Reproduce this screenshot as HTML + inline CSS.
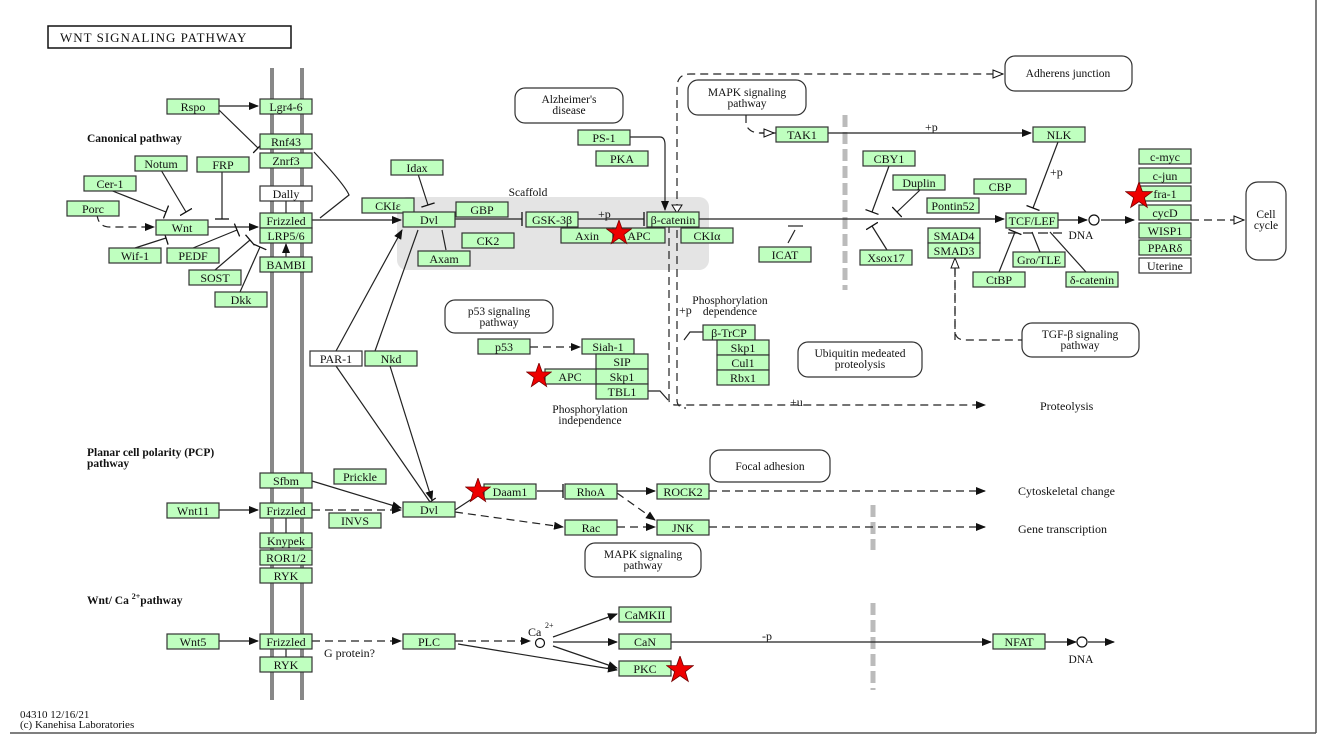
<!DOCTYPE html>
<html><head><meta charset="utf-8"><style>
html,body{margin:0;padding:0;background:#fff;}
svg{display:block;}
text{font-family:"Liberation Serif",serif;font-size:12px;fill:#111;}
.b rect{fill:#bfffbf;stroke:#333;stroke-width:1.2;}
.b text{text-anchor:middle;}
.w rect{fill:#fff;}
.l{stroke:#222;stroke-width:1.2;fill:none;}
.d{stroke:#222;stroke-width:1.2;fill:none;stroke-dasharray:8,5;}
.r{fill:#fff;stroke:#333;stroke-width:1.2;}
.c{text-anchor:middle;font-size:11.5px;}
.h{font-weight:bold;font-size:11.5px;}
.st{fill:#e00;stroke:#700;stroke-width:.6;}
</style></head><body>
<svg width="1328" height="744" viewBox="0 0 1328 744" xmlns="http://www.w3.org/2000/svg">
<defs>
<marker id="a" markerWidth="10" markerHeight="8" refX="9" refY="4" orient="auto" markerUnits="userSpaceOnUse"><path d="M0,0 L10,4 L0,8 z" fill="#111"/></marker>
<marker id="o" markerWidth="12" markerHeight="10" refX="11" refY="5" orient="auto" markerUnits="userSpaceOnUse"><path d="M1,1 L11,5 L1,9 z" fill="#fff" stroke="#111"/></marker>
<marker id="t" markerWidth="4" markerHeight="14" refX="2" refY="7" orient="auto" markerUnits="userSpaceOnUse"><path d="M2,0 L2,14" stroke="#111" stroke-width="1.3"/></marker>
<symbol id="star" viewBox="-10 -10 20 20"><path class="st" d="M0,-10 L2.4,-3.2 L9.5,-3.1 L3.8,1.2 L5.9,8.1 L0,4 L-5.9,8.1 L-3.8,1.2 L-9.5,-3.1 L-2.4,-3.2 z"/></symbol>
</defs>

<!-- borders -->
<line x1="10" y1="733" x2="1316" y2="733" stroke="#555" stroke-width="1.5"/>
<line x1="1316" y1="0" x2="1316" y2="733" stroke="#555" stroke-width="1.5"/>

<rect x="48" y="26" width="243" height="22" fill="#fff" stroke="#111" stroke-width="1.5"/>
<text x="60" y="42" style="font-size:13px;letter-spacing:1px">WNT SIGNALING PATHWAY</text>

<!-- membranes -->
<rect x="270" y="68" width="4" height="632" fill="#888"/>
<rect x="300" y="68" width="4" height="632" fill="#888"/>

<!-- scaffold -->
<rect x="397" y="197" width="312" height="73" rx="10" fill="#e4e4e4"/>
<text x="528" y="196" class="c">Scaffold</text>

<!-- grey dashed bars -->
<line x1="845" y1="115" x2="845" y2="290" stroke="#bbb" stroke-width="5" stroke-dasharray="12,5"/>
<line x1="873" y1="505" x2="873" y2="550" stroke="#bbb" stroke-width="5" stroke-dasharray="12,5"/>
<line x1="873" y1="603" x2="873" y2="690" stroke="#bbb" stroke-width="5" stroke-dasharray="12,5"/>

<!-- labels -->
<text x="87" y="142" class="h">Canonical pathway</text>
<text x="87" y="456" class="h">Planar cell polarity (PCP)</text>
<text x="87" y="467" class="h">pathway</text>
<text x="87" y="604" class="h">Wnt/ Ca <tspan dy="-5" font-size="8">2+</tspan><tspan dy="5">pathway</tspan></text>
<text x="20" y="718" style="font-size:11px">04310 12/16/21</text>
<text x="20" y="728" style="font-size:11px">(c) Kanehisa Laboratories</text>

<!-- rounded map boxes -->
<rect class="r" x="515" y="88" width="108" height="35" rx="10"/>
<text x="569" y="103" class="c">Alzheimer's</text><text x="569" y="114" class="c">disease</text>
<rect class="r" x="688" y="80" width="118" height="35" rx="10"/>
<text x="747" y="96" class="c">MAPK signaling</text><text x="747" y="107" class="c">pathway</text>
<rect class="r" x="1005" y="56" width="127" height="35" rx="10"/>
<text x="1068" y="77" class="c">Adherens junction</text>
<rect class="r" x="1246" y="182" width="40" height="78" rx="12"/>
<text x="1266" y="218" class="c">Cell</text><text x="1266" y="229" class="c">cycle</text>
<rect class="r" x="445" y="300" width="108" height="33" rx="10"/>
<text x="499" y="315" class="c">p53 signaling</text><text x="499" y="326" class="c">pathway</text>
<rect class="r" x="798" y="342" width="124" height="35" rx="10"/>
<text x="860" y="357" class="c">Ubiquitin medeated</text><text x="860" y="368" class="c">proteolysis</text>
<rect class="r" x="1022" y="323" width="117" height="34" rx="10"/>
<text x="1080" y="338" class="c">TGF-β signaling</text><text x="1080" y="349" class="c">pathway</text>
<rect class="r" x="710" y="450" width="120" height="32" rx="10"/>
<text x="770" y="470" class="c">Focal adhesion</text>
<rect class="r" x="585" y="543" width="116" height="34" rx="10"/>
<text x="643" y="558" class="c">MAPK signaling</text><text x="643" y="569" class="c">pathway</text>

<text x="730" y="304" class="c">Phosphorylation</text><text x="730" y="315" class="c">dependence</text>
<text x="590" y="413" class="c">Phosphorylation</text><text x="590" y="424" class="c">independence</text>
<text x="1040" y="410">Proteolysis</text>
<text x="1018" y="495">Cytoskeletal change</text>
<text x="1018" y="533">Gene transcription</text>
<text x="1081" y="239" class="c">DNA</text>
<text x="1081" y="663" class="c">DNA</text>
<text x="324" y="657">G protein?</text>
<text x="528" y="636">Ca</text><text x="545" y="628" style="font-size:8px">2+</text>
<text x="598" y="218">+p</text>
<text x="925" y="131">+p</text>
<text x="1050" y="176">+p</text>
<text x="679" y="314">+p</text>
<text x="790" y="406">+u</text>
<text x="762" y="640">-p</text>

<!-- connectors -->
<g class="l">
<path d="M219,106 L258,106" marker-end="url(#a)"/>
<path d="M219,110 L258,148" marker-end="url(#t)"/>
<path d="M314,152 Q345,185 349,195 L320,218"/>
<path d="M208,227 L258,227" marker-end="url(#a)"/>
<path d="M312,220 L401,220" marker-end="url(#a)"/>
<path d="M161,170 L186,212" marker-end="url(#t)"/>
<path d="M110,190 L166,212" marker-end="url(#t)"/>
<path d="M222,171 L222,219" marker-end="url(#t)"/>
<path d="M135,248 L166,238" marker-end="url(#t)"/>
<path d="M193,248 L237,230" marker-end="url(#t)"/>
<path d="M215,270 L250,240" marker-end="url(#t)"/>
<path d="M240,292 L260,247" marker-end="url(#t)"/>
<path d="M286,257 L286,244" marker-end="url(#a)"/>
<path d="M286,200 L286,213"/>
<path d="M418,174 L428,205" marker-end="url(#t)"/>
<path d="M455,219 L522,219" marker-end="url(#t)"/>
<path d="M578,219 L644,219" marker-end="url(#t)"/>
<path d="M630,137 L660,137 Q665,137 665,145 L665,210" marker-end="url(#a)"/>
<path d="M699,219 L1004,219" marker-end="url(#a)"/>
<path d="M760,133 L1031,133" marker-end="url(#a)"/>
<path d="M1058,142 L1033,208" marker-end="url(#t)"/>
<path d="M889,166 L872,212" marker-end="url(#t)"/>
<path d="M920,190 L897,212" marker-end="url(#t)"/>
<path d="M887,250 L872,226" marker-end="url(#t)"/>
<path d="M795,230 L788,243" />
<path d="M788,226 L803,226"/>
<path d="M999,272 L1015,232" marker-end="url(#t)"/>
<path d="M1040,252 L1032,232"/>
<path d="M1086,272 L1050,232"/>
<path d="M1008,233 L1062,233" stroke-dasharray="10,5"/>
<path d="M1058,220 L1087,220" marker-end="url(#a)"/>
<path d="M1101,220 L1134,220" marker-end="url(#a)"/>
<path d="M336,351 L402,230" marker-end="url(#a)"/>
<path d="M336,366 L430,502" marker-end="url(#t)"/>
<path d="M418,230 L375,351"/>
<path d="M390,366 L432,500" marker-end="url(#a)"/>
<path d="M442,230 L446,250"/>
<path d="M648,391 L660,391 L668,400"/>
<path d="M703,332 L690,332 L684,340"/>
<path d="M312,481 L401,508" marker-end="url(#a)"/>
<path d="M219,510 L258,510" marker-end="url(#a)"/>
<path d="M286,518 L286,533"/>
<path d="M455,510 L484,491"/>
<path d="M537,491 L563,491" marker-end="url(#t)"/>
<path d="M617,491 L655,491" marker-end="url(#a)"/>
<path d="M219,641 L258,641" marker-end="url(#a)"/>
<path d="M286,649 L286,657"/>
<path d="M553,637 L617,614" marker-end="url(#a)"/>
<path d="M553,642 L617,642" marker-end="url(#a)"/>
<path d="M553,646 L617,668" marker-end="url(#a)"/>
<path d="M458,644 L617,670" marker-end="url(#a)"/>
<path d="M671,642 L991,642" marker-end="url(#a)"/>
<path d="M1045,642 L1076,642" marker-end="url(#a)"/>
<path d="M1088,642 L1114,642" marker-end="url(#a)"/>
</g>
<g class="d">
<path d="M97,214 Q98,227 110,227 L154,227" marker-end="url(#a)"/>
<path d="M669,212 L669,400 Q669,405 676,405 L985,405" marker-end="url(#a)"/>
<path d="M677,212 L677,88 Q677,74 690,74 L1003,74" marker-end="url(#o)"/>
<path d="M677,212 L677,218"/>
<path d="M677,230 L677,400 Q677,408 686,408"/>
<path d="M746,115 L746,125 Q750,133 760,133 L774,133" marker-end="url(#o)"/>
<path d="M955,243 L955,330 Q955,340 965,340 L1022,340" />
<path d="M955,340 L955,258" marker-end="url(#o)"/>
<path d="M1191,220 L1244,220" marker-end="url(#o)"/>
<path d="M530,347 L580,347" marker-end="url(#a)"/>
<path d="M312,510 L401,510" marker-end="url(#a)"/>
<path d="M455,512 L563,527" marker-end="url(#a)"/>
<path d="M617,527 L655,527" marker-end="url(#a)"/>
<path d="M617,493 L655,520" marker-end="url(#a)"/>
<path d="M709,491 L985,491" marker-end="url(#a)"/>
<path d="M709,527 L985,527" marker-end="url(#a)"/>
<path d="M312,641 L401,641" marker-end="url(#a)"/>
<path d="M455,641 L530,641" marker-end="url(#a)"/>
</g>
<path d="M665,203 L677,203" stroke="none"/>
<path d="M672,205 L682,205 L677,213 z" fill="#fff" stroke="#111"/>
<circle cx="1094" cy="220" r="5" fill="#fff" stroke="#111" stroke-width="1.2"/>
<circle cx="1082" cy="642" r="5" fill="#fff" stroke="#111" stroke-width="1.2"/>
<circle cx="540" cy="643" r="4.5" fill="#fff" stroke="#111" stroke-width="1.2"/>

<!-- gene boxes -->
<g class="b">
<g><rect x="167" y="99" width="52" height="15"/><text x="193" y="111">Rspo</text></g>
<g><rect x="260" y="99" width="52" height="15"/><text x="286" y="111">Lgr4-6</text></g>
<g><rect x="260" y="134" width="52" height="15"/><text x="286" y="146">Rnf43</text></g>
<g><rect x="260" y="153" width="52" height="15"/><text x="286" y="165">Znrf3</text></g>
<g class="w"><rect x="260" y="186" width="52" height="15"/><text x="286" y="198">Dally</text></g>
<g><rect x="260" y="213" width="52" height="15"/><text x="286" y="225">Frizzled</text></g>
<g><rect x="260" y="228" width="52" height="15"/><text x="286" y="240">LRP5/6</text></g>
<g><rect x="260" y="257" width="52" height="15"/><text x="286" y="269">BAMBI</text></g>
<g><rect x="135" y="156" width="52" height="15"/><text x="161" y="168">Notum</text></g>
<g><rect x="197" y="157" width="52" height="15"/><text x="223" y="169">FRP</text></g>
<g><rect x="84" y="176" width="52" height="15"/><text x="110" y="188">Cer-1</text></g>
<g><rect x="67" y="201" width="52" height="15"/><text x="93" y="213">Porc</text></g>
<g><rect x="156" y="220" width="52" height="15"/><text x="182" y="232">Wnt</text></g>
<g><rect x="109" y="248" width="52" height="15"/><text x="135" y="260">Wif-1</text></g>
<g><rect x="167" y="248" width="52" height="15"/><text x="193" y="260">PEDF</text></g>
<g><rect x="189" y="270" width="52" height="15"/><text x="215" y="282">SOST</text></g>
<g><rect x="215" y="292" width="52" height="15"/><text x="241" y="304">Dkk</text></g>
<g><rect x="391" y="160" width="52" height="15"/><text x="417" y="172">Idax</text></g>
<g><rect x="362" y="198" width="52" height="15"/><text x="388" y="210">CKIε</text></g>
<g><rect x="403" y="212" width="52" height="15"/><text x="429" y="224">Dvl</text></g>
<g><rect x="456" y="202" width="52" height="15"/><text x="482" y="214">GBP</text></g>
<g><rect x="462" y="233" width="52" height="15"/><text x="488" y="245">CK2</text></g>
<g><rect x="418" y="251" width="52" height="15"/><text x="444" y="263">Axam</text></g>
<g><rect x="526" y="212" width="52" height="15"/><text x="552" y="224">GSK-3β</text></g>
<g><rect x="561" y="228" width="52" height="15"/><text x="587" y="240">Axin</text></g>
<g><rect x="613" y="228" width="52" height="15"/><text x="639" y="240">APC</text></g>
<g><rect x="647" y="212" width="52" height="15"/><text x="673" y="224">β-catenin</text></g>
<g><rect x="681" y="228" width="52" height="15"/><text x="707" y="240">CKIα</text></g>
<g><rect x="759" y="247" width="52" height="15"/><text x="785" y="259">ICAT</text></g>
<g><rect x="578" y="130" width="52" height="15"/><text x="604" y="142">PS-1</text></g>
<g><rect x="596" y="151" width="52" height="15"/><text x="622" y="163">PKA</text></g>
<g><rect x="776" y="127" width="52" height="15"/><text x="802" y="139">TAK1</text></g>
<g><rect x="1033" y="127" width="52" height="15"/><text x="1059" y="139">NLK</text></g>
<g><rect x="863" y="151" width="52" height="15"/><text x="889" y="163">CBY1</text></g>
<g><rect x="893" y="175" width="52" height="15"/><text x="919" y="187">Duplin</text></g>
<g><rect x="974" y="179" width="52" height="15"/><text x="1000" y="191">CBP</text></g>
<g><rect x="927" y="198" width="52" height="15"/><text x="953" y="210">Pontin52</text></g>
<g><rect x="1006" y="213" width="52" height="15"/><text x="1032" y="225">TCF/LEF</text></g>
<g><rect x="928" y="228" width="52" height="15"/><text x="954" y="240">SMAD4</text></g>
<g><rect x="928" y="243" width="52" height="15"/><text x="954" y="255">SMAD3</text></g>
<g><rect x="860" y="250" width="52" height="15"/><text x="886" y="262">Xsox17</text></g>
<g><rect x="1013" y="252" width="52" height="15"/><text x="1039" y="264">Gro/TLE</text></g>
<g><rect x="973" y="272" width="52" height="15"/><text x="999" y="284">CtBP</text></g>
<g><rect x="1066" y="272" width="52" height="15"/><text x="1092" y="284">δ-catenin</text></g>
<g><rect x="1139" y="149" width="52" height="15"/><text x="1165" y="161">c-myc</text></g>
<g><rect x="1139" y="168" width="52" height="15"/><text x="1165" y="180">c-jun</text></g>
<g><rect x="1139" y="186" width="52" height="15"/><text x="1165" y="198">fra-1</text></g>
<g><rect x="1139" y="205" width="52" height="15"/><text x="1165" y="217">cycD</text></g>
<g><rect x="1139" y="223" width="52" height="15"/><text x="1165" y="235">WISP1</text></g>
<g><rect x="1139" y="240" width="52" height="15"/><text x="1165" y="252">PPARδ</text></g>
<g class="w"><rect x="1139" y="258" width="52" height="15"/><text x="1165" y="270">Uterine</text></g>
<g class="w"><rect x="310" y="351" width="52" height="15"/><text x="336" y="363">PAR-1</text></g>
<g><rect x="365" y="351" width="52" height="15"/><text x="391" y="363">Nkd</text></g>
<g><rect x="478" y="339" width="52" height="15"/><text x="504" y="351">p53</text></g>
<g><rect x="582" y="339" width="52" height="15"/><text x="608" y="351">Siah-1</text></g>
<g><rect x="596" y="354" width="52" height="15"/><text x="622" y="366">SIP</text></g>
<g><rect x="596" y="369" width="52" height="15"/><text x="622" y="381">Skp1</text></g>
<g><rect x="596" y="384" width="52" height="15"/><text x="622" y="396">TBL1</text></g>
<g><rect x="545" y="369" width="51" height="15"/><text x="570" y="381">APC</text></g>
<g><rect x="703" y="325" width="52" height="15"/><text x="729" y="337">β-TrCP</text></g>
<g><rect x="717" y="340" width="52" height="15"/><text x="743" y="352">Skp1</text></g>
<g><rect x="717" y="355" width="52" height="15"/><text x="743" y="367">Cul1</text></g>
<g><rect x="717" y="370" width="52" height="15"/><text x="743" y="382">Rbx1</text></g>
<g><rect x="260" y="473" width="52" height="15"/><text x="286" y="485">Sfbm</text></g>
<g><rect x="334" y="469" width="52" height="15"/><text x="360" y="481">Prickle</text></g>
<g><rect x="167" y="503" width="52" height="15"/><text x="193" y="515">Wnt11</text></g>
<g><rect x="260" y="503" width="52" height="15"/><text x="286" y="515">Frizzled</text></g>
<g><rect x="403" y="502" width="52" height="15"/><text x="429" y="514">Dvl</text></g>
<g><rect x="329" y="513" width="52" height="15"/><text x="355" y="525">INVS</text></g>
<g><rect x="260" y="533" width="52" height="15"/><text x="286" y="545">Knypek</text></g>
<g><rect x="260" y="550" width="52" height="15"/><text x="286" y="562">ROR1/2</text></g>
<g><rect x="260" y="568" width="52" height="15"/><text x="286" y="580">RYK</text></g>
<g><rect x="484" y="484" width="52" height="15"/><text x="510" y="496">Daam1</text></g>
<g><rect x="565" y="484" width="52" height="15"/><text x="591" y="496">RhoA</text></g>
<g><rect x="657" y="484" width="52" height="15"/><text x="683" y="496">ROCK2</text></g>
<g><rect x="565" y="520" width="52" height="15"/><text x="591" y="532">Rac</text></g>
<g><rect x="657" y="520" width="52" height="15"/><text x="683" y="532">JNK</text></g>
<g><rect x="167" y="634" width="52" height="15"/><text x="193" y="646">Wnt5</text></g>
<g><rect x="260" y="634" width="52" height="15"/><text x="286" y="646">Frizzled</text></g>
<g><rect x="260" y="657" width="52" height="15"/><text x="286" y="669">RYK</text></g>
<g><rect x="403" y="634" width="52" height="15"/><text x="429" y="646">PLC</text></g>
<g><rect x="619" y="607" width="52" height="15"/><text x="645" y="619">CaMKII</text></g>
<g><rect x="619" y="634" width="52" height="15"/><text x="645" y="646">CaN</text></g>
<g><rect x="619" y="661" width="52" height="15"/><text x="645" y="673">PKC</text></g>
<g><rect x="993" y="634" width="52" height="15"/><text x="1019" y="646">NFAT</text></g>
</g>

<!-- stars -->
<use href="#star" x="606" y="220" width="26" height="26"/>
<use href="#star" x="526" y="363" width="26" height="26"/>
<use href="#star" x="1125" y="182" width="28" height="28"/>
<use href="#star" x="465" y="478" width="26" height="26"/>
<use href="#star" x="666" y="656" width="28" height="28"/>
</svg>
</body></html>
